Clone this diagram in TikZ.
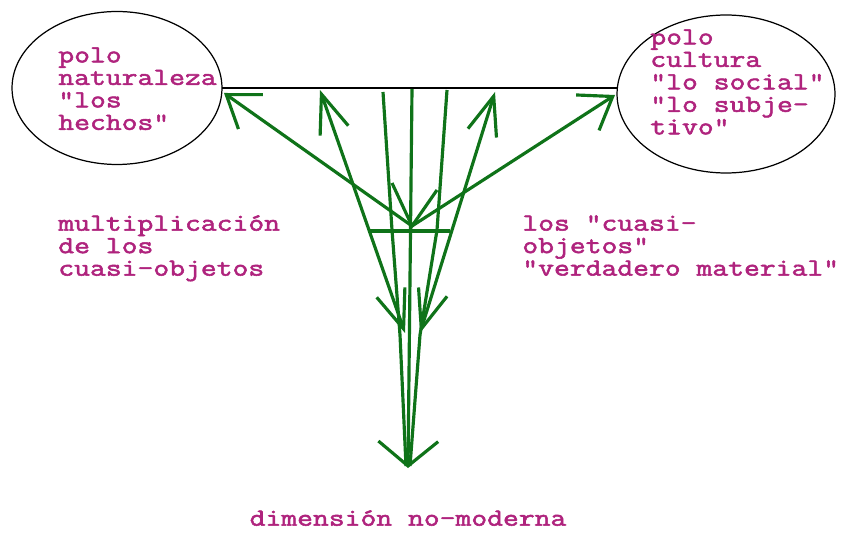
\documentclass[tikz,border=0pt]{standalone}
\usepackage{fontspec}
\newfontfamily\typewriter[FakeStretch=1.25, FakeBold=2.2]{Latin Modern Mono}
\usepackage{tikz}
\usetikzlibrary{shapes.geometric,arrows.meta}
\definecolor{polemagenta}{RGB}{175,35,125}
\definecolor{strandgreen}{RGB}{15,115,25}
\newcommand\captionfont{\typewriter\fontsize{14}{12.8}\selectfont\lineskiplimit=-20pt\relax}

\begin{document}
\begin{tikzpicture}[x=0.02cm, y=-0.02cm,
    pole/.style={draw, ellipse, line width=0.7pt, inner sep=0pt, outer sep=0pt},
    caption/.style={text=polemagenta, font=\captionfont, align=left, inner sep=0pt},
    strand/.style={draw=strandgreen, line width=1.8pt},
    purify/.style={strand, -{Straight Barb[length=17pt, width=24pt]}},
    mediate/.style={strand, {Straight Barb[length=22pt, width=17pt]}-{Straight Barb[length=22pt, width=17pt]}},
    sink/.style={strand, -{Straight Barb[length=14pt, width=34pt]}}
]
\useasboundingbox (0,0) rectangle (841,533);

\node[pole, minimum width=4.2cm, minimum height=3.06cm] (naturaleza) at (117,88) {};
\node[pole, minimum width=4.36cm, minimum height=3.16cm] (cultura) at (726,94) {};
\draw[line width=1.1pt] (naturaleza.east) -- (naturaleza.east -| cultura.west);

\coordinate (quasi) at (412,226);
\coordinate (hechos) at (224,93);
\coordinate (social) at (615,95);
\coordinate (leftup) at (320,90);
\coordinate (leftdown) at (405,333);
\coordinate (rightup) at (495,92);
\coordinate (rightdown) at (420,333);
\coordinate (lefttop) at (383,92);
\coordinate (leftmid) at (392,230);
\coordinate (leftlow) at (400,335);
\coordinate (leftend) at (406,466);
\coordinate (righttop) at (447,90);
\coordinate (rightmid) at (437,230);
\coordinate (rightlow) at (420,335);
\coordinate (rightend) at (410,466);
\coordinate (midtop) at (412,89);
\coordinate (nonmodern) at (408,468);
\coordinate (leftspoke) at (392,183);
\coordinate (rightspoke) at (437,190);
\coordinate (barleft) at (368,231);
\coordinate (barright) at (450,231);

\draw[purify] (quasi) -- (hechos);
\draw[purify] (quasi) -- (social);
\draw[mediate] (leftdown) -- (leftup);
\draw[mediate] (rightdown) -- (rightup);
\draw[strand] (lefttop) -- (leftmid) -- (leftlow) -- (leftend);
\draw[strand] (righttop) -- (rightmid) -- (rightlow) -- (rightend);
\draw[sink] (midtop) -- (nonmodern);
\draw[strand] (leftspoke) -- (quasi) -- (rightspoke);
\draw[strand] (barleft) -- (barright);

\node[caption, anchor=north west] (naturalezatxt) at (58,47) {polo\\naturaleza\\"los\\hechos"};
\node[caption, anchor=north west] (culturatxt) at (650,29) {polo\\cultura\\"lo social"\\"lo subje-\\tivo"};
\node[caption, anchor=north west] (multiplicacion) at (58,215) {multiplicación\\de los\\cuasi-objetos};
\node[caption, anchor=north west] (cuasiobjetos) at (522,215) {los "cuasi-\\objetos"\\"verdadero material"};
\node[caption, anchor=north] (dimension) at (408,510) {dimensión no-moderna};

\end{tikzpicture}
\end{document}
